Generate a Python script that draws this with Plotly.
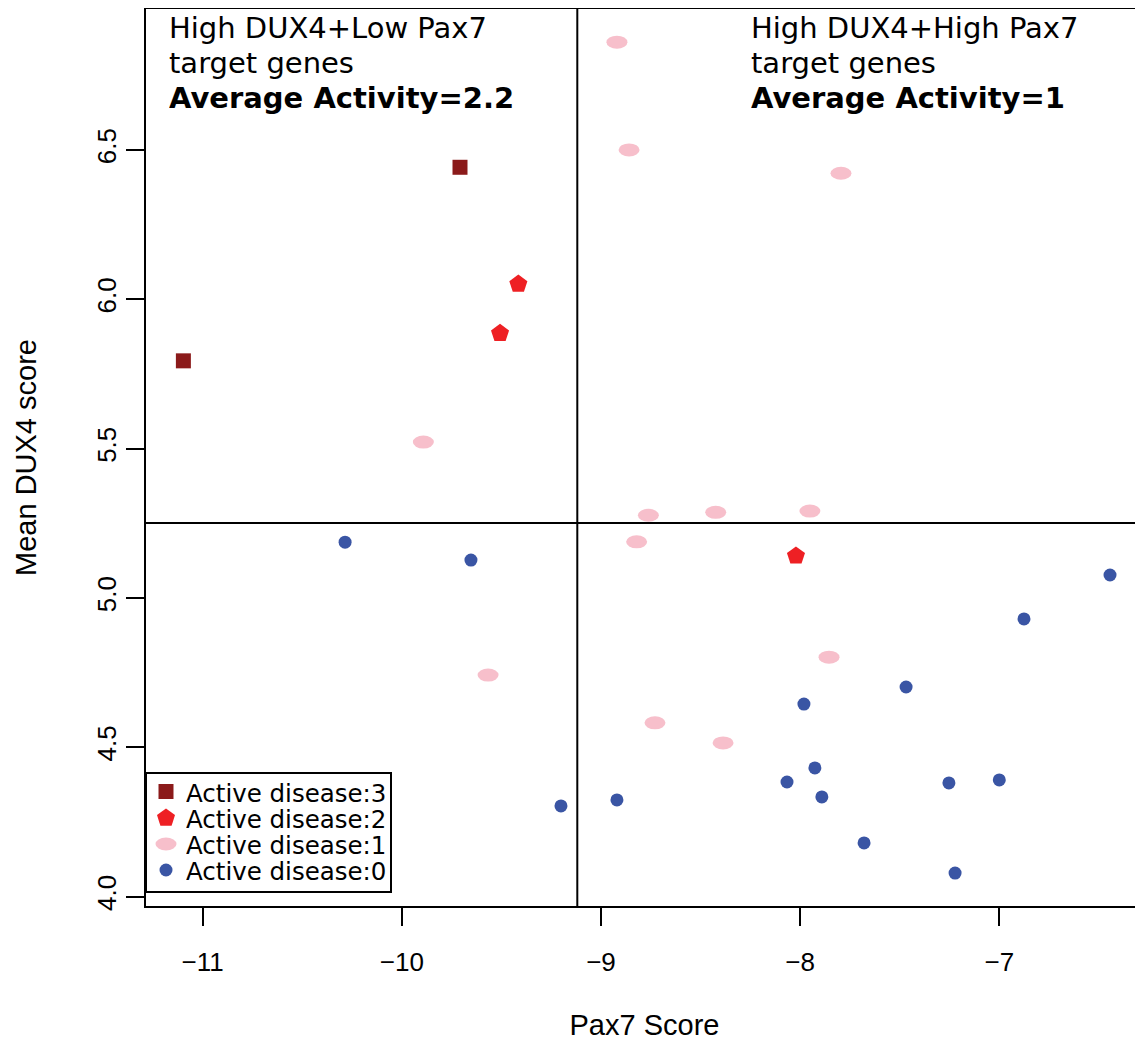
import plotly.graph_objects as go

# ---------------- data ----------------
sev3_x = [-9.708, -11.097]
sev3_y = [6.442, 5.794]
sev2_x = [-9.415, -9.507, -8.021]
sev2_y = [6.051, 5.886, 5.141]
sev1_x = [-8.920, -8.859, -7.795, -9.892, -8.762, -8.424, -7.951, -8.821,
          -9.567, -7.855, -8.729, -8.387]
sev1_y = [6.861, 6.500, 6.422, 5.522, 5.277, 5.287, 5.291, 5.188,
          4.742, 4.802, 4.582, 4.515]
sev0_x = [-10.285, -9.653, -9.201, -8.920, -6.444, -6.876, -7.468, -7.981,
          -7.926, -8.066, -7.891, -7.253, -7.000, -7.679, -7.222]
sev0_y = [5.187, 5.127, 4.304, 4.324, 5.077, 4.930, 4.702, 4.645,
          4.431, 4.384, 4.334, 4.381, 4.391, 4.180, 4.079]

pax7_cut = -9.119
dux4_cut = 5.251

x_ticks = [-11, -10, -9, -8, -7]
x_ticklabels = ["\u221211", "\u221210", "\u22129", "\u22128", "\u22127"]
y_ticks = [4.0, 4.5, 5.0, 5.5, 6.0, 6.5]
y_ticklabels = ["4.0", "4.5", "5.0", "5.5", "6.0", "6.5"]

legend_labels = ["Active disease:3", "Active disease:2",
                 "Active disease:1", "Active disease:0"]
quad_left_lines = ["High DUX4+Low Pax7", "target genes", "<b>Average Activity=2.2</b>"]
quad_right_lines = ["High DUX4+High Pax7", "target genes", "<b>Average Activity=1</b>"]

# ---------------- styles ----------------
C3 = "#8B1A1A"
C2 = "#EE2024"
C1 = "#F7BFCB"
C0 = "#3A55A4"
AX_FONT = "Liberation Sans, Arial, sans-serif"
TXT_FONT = "DejaVu Sans, sans-serif"

OFF = 8  # page body margin
W, H = 1135, 1033
ML, MR, MT, MB = 138, 0, 1, 135
PW, PH = W - ML - MR, H - MT - MB

def px_x(p):
    return (p - OFF - ML) / PW

def px_y(p):
    return (H - MB - (p - OFF)) / PH

fig = go.Figure()

fig.add_trace(go.Scatter(x=sev3_x, y=sev3_y, mode="markers", name=legend_labels[0],
                         marker=dict(symbol="square", size=15, color=C3, line=dict(width=0)),
                         showlegend=False))
fig.add_trace(go.Scatter(x=sev2_x, y=sev2_y, mode="markers", name=legend_labels[1],
                         marker=dict(symbol="pentagon", size=19, color=C2, line=dict(width=0)),
                         showlegend=False))
fig.add_trace(go.Scatter(x=sev1_x, y=sev1_y, mode="markers", name=legend_labels[2],
                         marker=dict(symbol="circle", size=13, color=C1, opacity=0, line=dict(width=0)),
                         showlegend=False))
fig.add_trace(go.Scatter(x=sev0_x, y=sev0_y, mode="markers", name=legend_labels[3],
                         marker=dict(symbol="circle", size=13, color=C0, line=dict(width=0)),
                         showlegend=False))

shapes = []
# quadrant lines
shapes.append(dict(type="line", xref="x", yref="paper", x0=pax7_cut, x1=pax7_cut, y0=0, y1=1,
                   line=dict(color="black", width=2)))
shapes.append(dict(type="line", xref="paper", yref="y", x0=0, x1=1, y0=dux4_cut, y1=dux4_cut,
                   line=dict(color="black", width=2)))
# pink ellipse markers
for xv, yv in zip(sev1_x, sev1_y):
    shapes.append(dict(type="circle", xref="x", yref="y", xsizemode="pixel", ysizemode="pixel",
                       xanchor=xv, yanchor=yv, x0=-10.5, x1=10.5, y0=-6.5, y1=6.5,
                       fillcolor=C1, line=dict(width=0)))

# manual legend box
shapes.append(dict(type="rect", xref="paper", yref="paper",
                   x0=px_x(146), x1=px_x(391), y0=px_y(892), y1=px_y(773),
                   line=dict(color="black", width=2), fillcolor="white", layer="below"))

leg_rows = [791.5, 818.0, 844.0, 870.0]
leg_sym_x = px_x(166)
leg_txt_x = px_x(184)

fig.add_trace(go.Scatter(x=[leg_sym_x], y=[px_y(leg_rows[0])], xaxis="x2", yaxis="y2", mode="markers",
                         marker=dict(symbol="square", size=15, color=C3, line=dict(width=0)),
                         showlegend=False, hoverinfo="skip"))
fig.add_trace(go.Scatter(x=[leg_sym_x], y=[px_y(leg_rows[1])], xaxis="x2", yaxis="y2", mode="markers",
                         marker=dict(symbol="pentagon", size=19, color=C2, line=dict(width=0)),
                         showlegend=False, hoverinfo="skip"))
fig.add_trace(go.Scatter(x=[leg_sym_x], y=[px_y(leg_rows[3])], xaxis="x2", yaxis="y2", mode="markers",
                         marker=dict(symbol="circle", size=13, color=C0, line=dict(width=0)),
                         showlegend=False, hoverinfo="skip"))
shapes.append(dict(type="circle", xref="paper", yref="paper", xsizemode="pixel", ysizemode="pixel",
                   xanchor=leg_sym_x, yanchor=px_y(leg_rows[2]), x0=-10.5, x1=10.5, y0=-6.5, y1=6.5,
                   fillcolor=C1, line=dict(width=0)))

annotations = []
for lab, ry in zip(legend_labels, leg_rows):
    annotations.append(dict(text=lab, xref="paper", yref="paper", x=leg_txt_x, y=px_y(ry + 1),
                            xanchor="left", yanchor="middle", showarrow=False,
                            height=24, valign="middle",
                            font=dict(family=TXT_FONT, size=24.5, color="black")))

# quadrant labels (one annotation per line for exact spacing)
line_tops = [9, 44, 79]
for lines, xpix in [(quad_left_lines, 167), (quad_right_lines, 749)]:
    for txt, tp in zip(lines, line_tops):
        annotations.append(dict(text=txt, xref="paper", yref="paper", x=px_x(xpix), y=px_y(tp),
                                xanchor="left", yanchor="top", align="left", showarrow=False,
                                height=34, valign="top",
                                font=dict(family=TXT_FONT, size=29, color="black")))

fig.update_layout(
    width=W, height=H,
    margin=dict(l=ML, r=MR, t=MT, b=MB, autoexpand=False),
    paper_bgcolor="white", plot_bgcolor="white",
    showlegend=False,
    shapes=shapes,
    annotations=annotations,
    xaxis=dict(range=[-11.2847, -6.2784], tickvals=x_ticks, ticktext=x_ticklabels,
               ticks="outside", ticklen=18, tickwidth=2, tickcolor="black",
               ticklabelstandoff=14, automargin=False,
               showline=True, linewidth=2, linecolor="black", mirror=True,
               showgrid=False, zeroline=False,
               tickfont=dict(family=AX_FONT, size=26, color="black"),
               title=dict(text="Pax7 Score", font=dict(family=AX_FONT, size=29, color="black"),
                          standoff=42)),
    yaxis=dict(range=[3.9689, 6.9719], tickvals=y_ticks, ticktext=y_ticklabels,
               ticks="outside", ticklen=18, tickwidth=2, tickcolor="black", tickangle=-90,
               automargin=False,
               showline=True, linewidth=2, linecolor="black", mirror=False,
               showgrid=False, zeroline=False,
               tickfont=dict(family=AX_FONT, size=26, color="black"),
               title=dict(text="Mean DUX4 score", font=dict(family=AX_FONT, size=29, color="black"),
                          standoff=46)),
    xaxis2=dict(range=[0, 1], domain=[0, 1], overlaying="x", visible=False, fixedrange=True),
    yaxis2=dict(range=[0, 1], domain=[0, 1], overlaying="y", visible=False, fixedrange=True),
)

fig.write_html("out.html")
